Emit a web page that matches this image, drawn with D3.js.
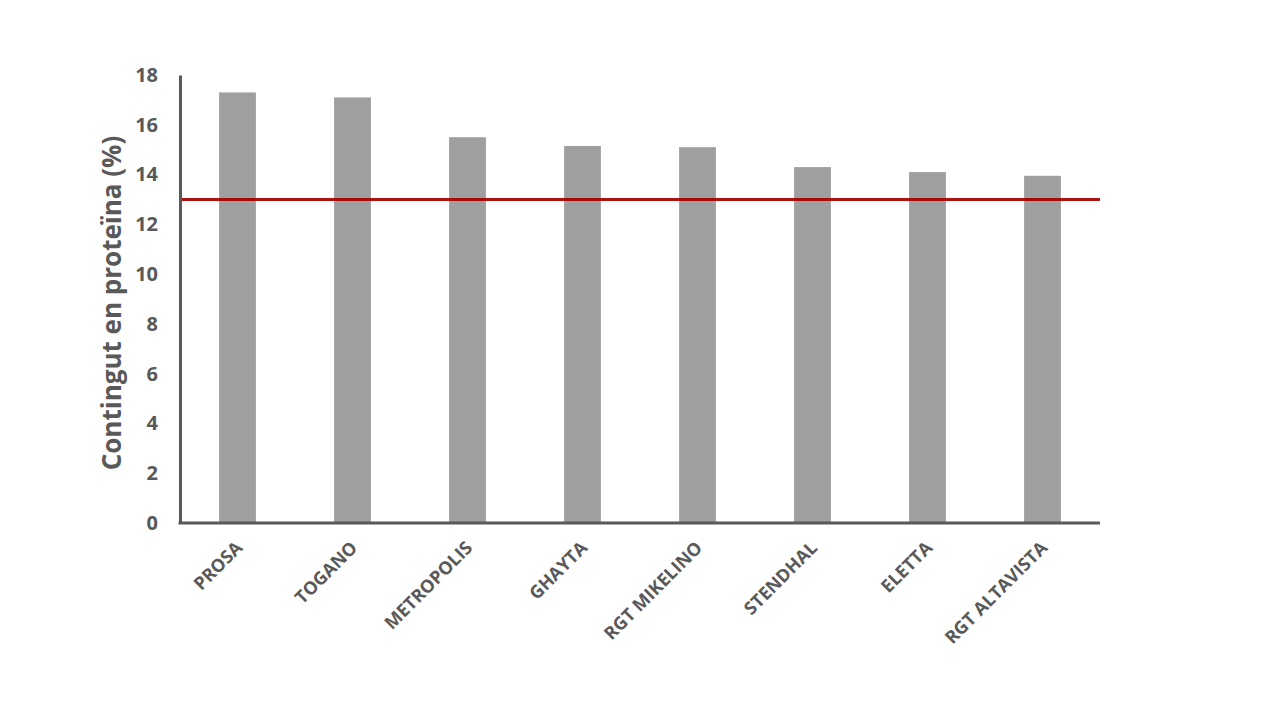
<!DOCTYPE html>
<html><head><meta charset="utf-8">
<script src="https://cdn.jsdelivr.net/npm/d3@7"></script>
<style>body{margin:0;background:#fff;}svg{display:block;}</style>
</head><body>
<svg id="chart" width="1280" height="720"></svg>
<script>
const categories = ["PROSA","TOGANO","METROPOLIS","GHAYTA","RGT MIKELINO","STENDHAL","ELETTA","RGT ALTAVISTA"];
const values = [17.3, 17.1, 15.5, 15.15, 15.1, 14.3, 14.1, 13.95];
const threshold = 13;
const yTicks = [0,2,4,6,8,10,12,14,16,18];
const yTitle = "Contingut en proteïna (%)";

(function(){
const svg = d3.select("#chart");
const mLeft = 180, mRight = 1100, mTop = 75, mBottom = 523;
const x = d3.scaleBand().domain(categories).range([mLeft, mRight]).paddingInner(0.68).paddingOuter(0.34);
const y = d3.scaleLinear().domain([0, 18]).range([mBottom, mTop]);
const font = "'Open Sans', sans-serif";

svg.selectAll("rect.bar").data(values).enter().append("rect")
  .attr("class","bar")
  .attr("x",(d,i)=>x(categories[i]))
  .attr("width",x.bandwidth())
  .attr("y",d=>y(d))
  .attr("height",d=>y(0)-y(d))
  .attr("fill","#9f9f9f");

svg.append("line")
  .attr("x1",mLeft).attr("x2",mRight)
  .attr("y1",y(threshold)).attr("y2",y(threshold))
  .attr("stroke","#a80000").attr("stroke-width",3).attr("opacity",0.92);

const yAxis = svg.append("g").attr("transform",`translate(${mLeft},0)`)
  .call(d3.axisLeft(y).tickValues(yTicks).tickSize(0).tickPadding(22));
yAxis.select(".domain").attr("stroke","#595959").attr("stroke-width",3);
yAxis.selectAll("text").attr("font-family",font).attr("font-weight","bold")
  .attr("font-size",20).attr("fill","#595959");

const xAxis = svg.append("g").attr("transform",`translate(0,${mBottom})`)
  .call(d3.axisBottom(x).tickSize(0).tickPadding(0));
xAxis.select(".domain").attr("stroke","#595959").attr("stroke-width",3)
  .attr("d",`M${mLeft-1.5},0H${mRight}`);
xAxis.selectAll("text")
  .attr("font-family",font).attr("font-weight","bold").attr("font-size",18)
  .attr("fill","#595959")
  .attr("text-anchor","end")
  .attr("dy",null)
  .attr("transform","translate(6,26) rotate(-45)");

svg.append("text")
  .attr("transform",`translate(121,${(mTop+mBottom)/2 + 4}) rotate(-90)`)
  .attr("text-anchor","middle")
  .attr("font-family",font).attr("font-weight","bold").attr("font-size",26)
  .attr("fill","#595959")
  .text(yTitle);
})();
</script>
</body></html>
